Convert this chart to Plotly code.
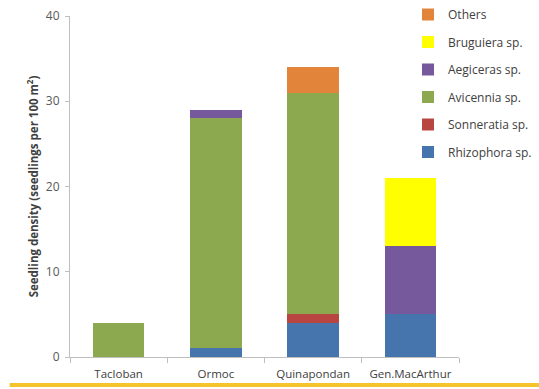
import plotly.graph_objects as go

sites = ["Tacloban", "Ormoc", "Quinapondan", "Gen.MacArthur"]
species = ["Rhizophora sp.", "Sonneratia sp.", "Avicennia sp.", "Aegiceras sp.", "Bruguiera sp.", "Others"]
rhizophora = [0, 1, 4, 5]
sonneratia = [0, 0, 1, 0]
avicennia = [4, 27, 26, 0]
aegiceras = [0, 1, 0, 8]
bruguiera = [0, 0, 0, 8]
others = [0, 0, 3, 0]
values = [rhizophora, sonneratia, avicennia, aegiceras, bruguiera, others]
colors = ["#4674AC", "#B8453F", "#8CA94F", "#76599C", "#FFFF00", "#E3843B"]

fig = go.Figure()
n = len(species)
for i, (name, vals, col) in enumerate(zip(species, values, colors)):
    fig.add_trace(go.Bar(
        x=sites, y=vals, name=name, marker=dict(color=col, line=dict(width=0)),
        legendgroup=f"g{i}", legendrank=n - i, width=0.53,
    ))

fig.update_layout(
    barmode="stack",
    width=539, height=389,
    margin=dict(l=70, r=80, t=16, b=32, autoexpand=False),
    paper_bgcolor="white", plot_bgcolor="white",
    font=dict(family="Open Sans", size=11, color="#595959"),
    showlegend=True,
    legend=dict(
        xref="container", yref="container",
        x=0.757, y=1.0, xanchor="left", yanchor="top",
        traceorder="grouped", tracegroupgap=8.5,
        font=dict(size=12, color="#404040"), bgcolor="rgba(0,0,0,0)",
        itemwidth=30,
    ),
    xaxis=dict(
        range=[-0.5, 3.5], showline=True, linecolor="#BFBFBF", linewidth=1,
        ticks="outside", tickson="boundaries", ticklen=5, tickcolor="#BFBFBF",
        showgrid=False, tickfont=dict(size=11.5, color="#404040"),
        ticklabelstandoff=6,
    ),
    yaxis=dict(
        range=[0, 40], dtick=10, showline=True, linecolor="#BFBFBF", linewidth=1,
        ticks="outside", ticklen=4, tickcolor="#BFBFBF", showgrid=False, zeroline=False,
        tickfont=dict(size=12, color="#595959"), ticklabelstandoff=3,
        title=dict(text="<b>Seedling density (seedlings per 100 m<sup>2</sup>)</b>",
                   font=dict(size=11.5, color="#404040"), standoff=4),
    ),
    shapes=[dict(type="line", xref="paper", yref="paper",
                 x0=-0.155, x1=1.21, y0=-0.082, y1=-0.082,
                 line=dict(color="#F5C32C", width=4))],
)

fig.write_html("out.html")
